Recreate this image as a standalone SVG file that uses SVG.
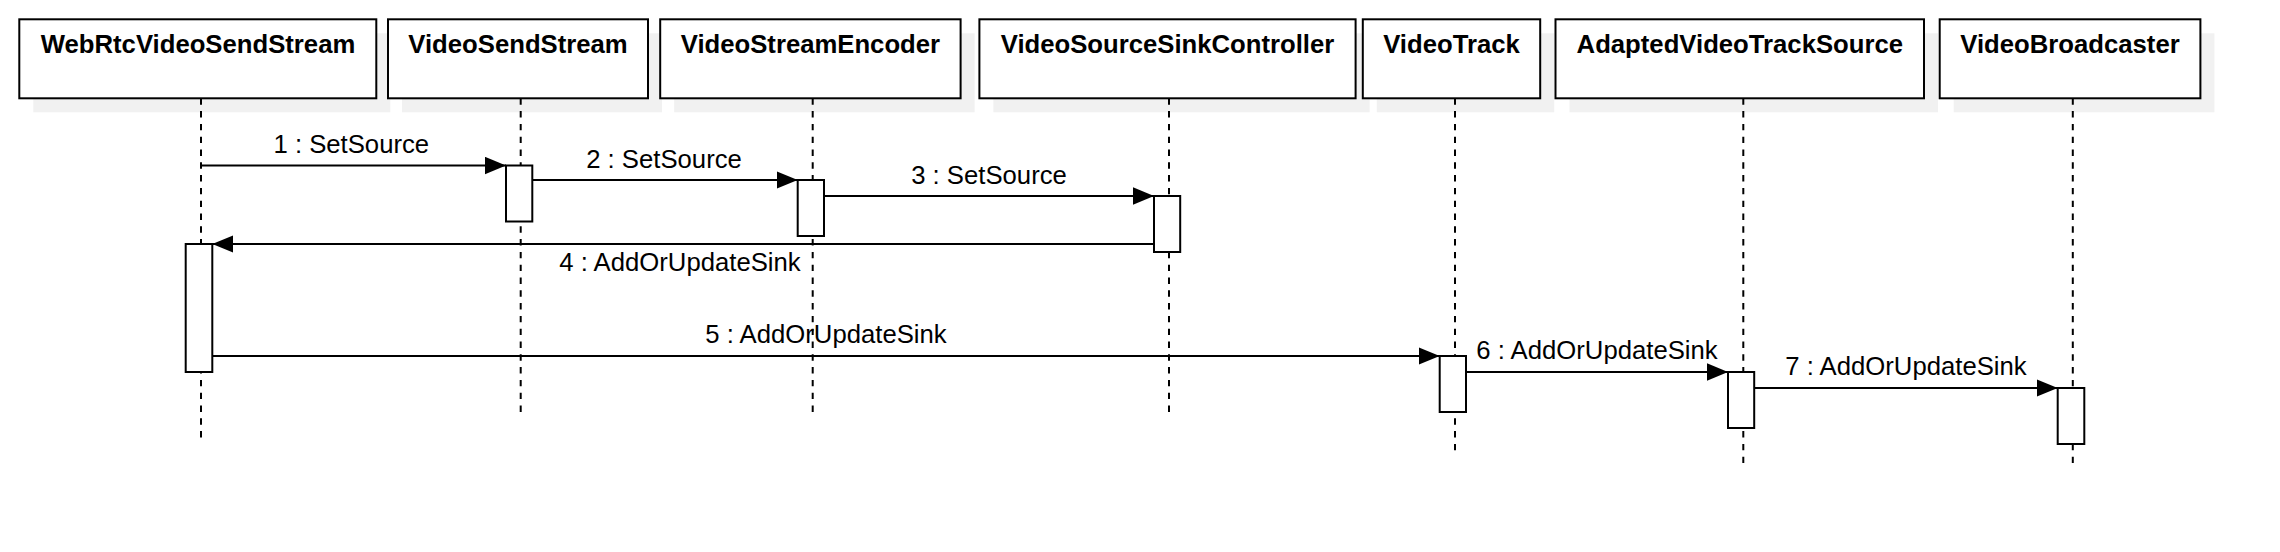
<svg xmlns="http://www.w3.org/2000/svg" width="2280" height="552" viewBox="0 0 2280 552">
<style>
.shadow{fill:#f1f1f1;stroke:none}
.box{fill:#fff;stroke:#000;stroke-width:2}
.title{font-family:"Liberation Sans",Arial,sans-serif;font-size:25.7px;font-weight:bold;text-anchor:middle;fill:#000}
.life{stroke:#000;stroke-width:2;stroke-dasharray:6.4 6.4;fill:none}
.act{fill:#fff;stroke:#000;stroke-width:2}
.msg{stroke:#000;stroke-width:2;fill:none;marker-end:url(#arr)}
.lbl{font-family:"Liberation Sans",Arial,sans-serif;font-size:25.7px;text-anchor:middle;fill:#000}
</style>
<defs>
<marker id="arr" markerUnits="userSpaceOnUse" markerWidth="22" markerHeight="18" refX="21" refY="8.7" orient="auto">
<path d="M0,0 L21,8.7 L0,17.4 Z" fill="#000"/>
</marker>
</defs>
<rect width="2280" height="552" fill="#fff"/>
<g id="node-webrtc">
<rect class="shadow" x="33.3" y="33.3" width="357" height="79"/>
<rect class="box" x="19.3" y="19.3" width="357" height="79"/>
<text class="title" x="198" y="53.3">WebRtcVideoSendStream</text>
<line class="life" x1="201" y1="98.3" x2="201" y2="440"/>
<rect class="act" x="185.7" y="244" width="26.6" height="128"/>
</g>
<g id="node-videosendstream">
<rect class="shadow" x="402" y="33.3" width="260" height="79"/>
<rect class="box" x="388" y="19.3" width="260" height="79"/>
<text class="title" x="518" y="53.3">VideoSendStream</text>
<line class="life" x1="520.7" y1="98.3" x2="520.7" y2="418"/>
<rect class="act" x="506" y="165.5" width="26.3" height="56"/>
</g>
<g id="node-videostreamencoder">
<rect class="shadow" x="674.2" y="33.3" width="300.4" height="79"/>
<rect class="box" x="660.2" y="19.3" width="300.4" height="79"/>
<text class="title" x="810.4" y="53.3">VideoStreamEncoder</text>
<line class="life" x1="812.7" y1="98.3" x2="812.7" y2="418"/>
<rect class="act" x="797.7" y="180" width="26.3" height="56"/>
</g>
<g id="node-videosourcesinkcontroller">
<rect class="shadow" x="993.4" y="33.3" width="376.2" height="79"/>
<rect class="box" x="979.4" y="19.3" width="376.2" height="79"/>
<text class="title" x="1167.5" y="53.3">VideoSourceSinkController</text>
<line class="life" x1="1169" y1="98.3" x2="1169" y2="418"/>
<rect class="act" x="1154" y="196" width="26.2" height="56"/>
</g>
<g id="node-videotrack">
<rect class="shadow" x="1376.8" y="33.3" width="177.4" height="79"/>
<rect class="box" x="1362.8" y="19.3" width="177.4" height="79"/>
<text class="title" x="1451.5" y="53.3">VideoTrack</text>
<line class="life" x1="1455" y1="98.3" x2="1455" y2="453.3"/>
<rect class="act" x="1439.7" y="356" width="26.3" height="56"/>
</g>
<g id="node-adaptedvideotracksource">
<rect class="shadow" x="1569.5" y="33.3" width="368.5" height="79"/>
<rect class="box" x="1555.5" y="19.3" width="368.5" height="79"/>
<text class="title" x="1739.8" y="53.3">AdaptedVideoTrackSource</text>
<line class="life" x1="1743.3" y1="98.3" x2="1743.3" y2="465"/>
<rect class="act" x="1728" y="372" width="26.2" height="56"/>
</g>
<g id="node-videobroadcaster">
<rect class="shadow" x="1953.7" y="33.3" width="260.7" height="79"/>
<rect class="box" x="1939.7" y="19.3" width="260.7" height="79"/>
<text class="title" x="2070" y="53.3">VideoBroadcaster</text>
<line class="life" x1="2072.8" y1="98.3" x2="2072.8" y2="466"/>
<rect class="act" x="2057.7" y="388" width="26.6" height="56"/>
</g>
<g id="connectors">
<line class="msg" x1="201" y1="165.5" x2="506" y2="165.5"/>
<text class="lbl" x="351.3" y="153.3">1 : SetSource</text>
<line class="msg" x1="532.3" y1="180" x2="797.7" y2="180"/>
<text class="lbl" x="664" y="167.7">2 : SetSource</text>
<line class="msg" x1="824" y1="196" x2="1154" y2="196"/>
<text class="lbl" x="989" y="183.7">3 : SetSource</text>
<line class="msg" x1="1154" y1="244" x2="212.3" y2="244"/>
<text class="lbl" x="680" y="270.7">4 : AddOrUpdateSink</text>
<line class="msg" x1="212.3" y1="356" x2="1439.7" y2="356"/>
<text class="lbl" x="826" y="342.7">5 : AddOrUpdateSink</text>
<line class="msg" x1="1466" y1="372" x2="1728" y2="372"/>
<text class="lbl" x="1597" y="358.7">6 : AddOrUpdateSink</text>
<line class="msg" x1="1754.2" y1="388" x2="2057.7" y2="388"/>
<text class="lbl" x="1906" y="374.7">7 : AddOrUpdateSink</text>
</g>
</svg>
